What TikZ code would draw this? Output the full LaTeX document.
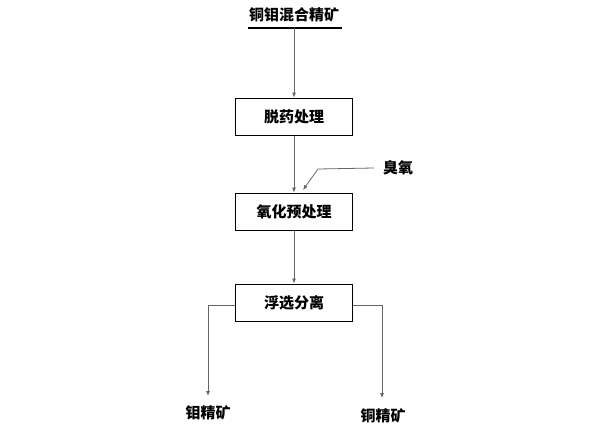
\documentclass[tikz,border=0pt]{standalone}
\usepackage{fontspec}
\newfontfamily\cjk{Noto Sans CJK SC}
\usetikzlibrary{arrows.meta}
\begin{document}
\begin{tikzpicture}[x=1pt,y=-1pt,
  lbl/.style={font=\cjk\bfseries\fontsize{15}{17}\selectfont, inner sep=0pt},
  procbox/.style={draw=black, line width=1.8pt, minimum width=117pt, minimum height=37pt, inner sep=0pt, font=\cjk\bfseries\fontsize{15}{17}\selectfont},
  flow/.style={draw=black!60, line width=0.8pt, -{Latex[length=5pt,width=4pt]}}
]
\useasboundingbox (0,0) rectangle (600,429);
\fill[white] (0,0) rectangle (600,429);
\node[lbl] (feed) at (294,15) {铜钼混合精矿};
\coordinate (ulL) at (248,28);
\coordinate (ulR) at (342,28);
\draw[line width=1.8pt] (ulL) -- (ulR);
\coordinate (ulM) at (294,28);
\node[procbox] (b1) at (294,117) {脱药处理};
\node[procbox] (b2) at (294,212) {氧化预处理};
\node[procbox] (b3) at (294,303) {浮选分离};
\node[lbl] (oz) at (398,168) {臭氧};
\node[lbl] (mo) at (208,413) {钼精矿};
\node[lbl] (cu) at (383,416) {铜精矿};
\coordinate (ozk) at (318,169);
\coordinate (ozend) at (303,190);
\coordinate (lk) at (208,305);
\coordinate (rk) at (382,305);
\coordinate (le) at (208,396);
\coordinate (re) at (382,398);
\draw[flow] (oz.west) ++(-9pt,0) -- (ozk) -- (ozend);
\draw[flow] (ulM) -- (b1.north);
\draw[flow] (b1.south) -- (b2.north);
\draw[flow] (b2.south) -- (b3.north);
\draw[flow] (b3.west |- lk) -- (lk) -- (le);
\draw[flow] (b3.east |- rk) -- (rk) -- (re);
\end{tikzpicture}
\end{document}
